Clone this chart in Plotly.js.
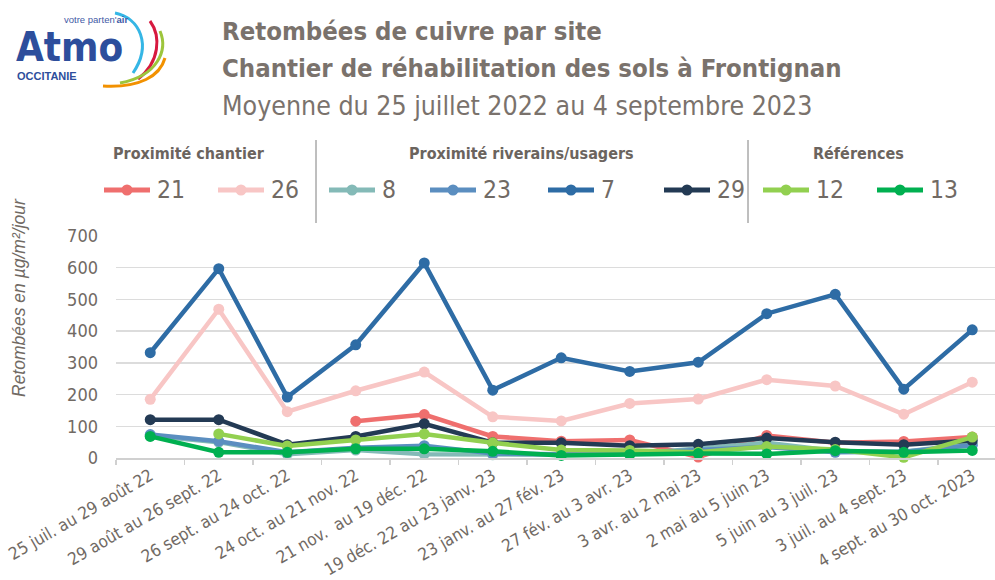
<!DOCTYPE html>
<html>
<head>
<meta charset="utf-8">
<script src="https://cdn.plot.ly/plotly-3.0.1.min.js"></script>
<style>html,body{margin:0;padding:0;overflow:hidden;background:#fff}#chart{width:995px;height:580px}</style>
</head>
<body>
<div id="chart"></div>
<script>
// ---- data ----
const categories = ["25 juil. au 29 août 22","29 août au 26 sept. 22","26 sept. au 24 oct. 22","24 oct. au 21 nov. 22","21 nov.\u00a0 au 19 déc. 22","19 déc. 22 au 23 janv. 23","23 janv. au 27 fév. 23","27 fév. au 3 avr. 23","3 avr. au 2 mai 23","2 mai au 5 juin 23","5 juin au 3 juil. 23","3 juil. au 4 sept. 23","4 sept. au 30 oct. 2023"];
const seriesNames = ["21","26","8","23","7","29","12","13"];
const s21 = [null,null,null,116,137,68,53,57,3,71,48,52,66];
const s26 = [185,469,146,212,271,130,117,172,186,247,227,138,239];
const s8  = [70,50,12,25,12,10,10,12,30,48,22,20,45];
const s23 = [74,53,18,32,39,14,12,15,25,35,18,20,40];
const s7  = [332,597,192,357,615,214,316,273,302,455,516,217,404];
const s29 = [121,121,42,68,108,48,48,39,43,63,50,42,55];
const s12 = [null,76,38,57,76,48,25,24,18,36,27,2,66];
const s13 = [68,18,18,29,29,21,8,11,14,13,23,18,24];
const groupTitles = ["Proximité chantier","Proximité riverains/usagers","Références"];
const yTitle = "Retombées en µg/m²/jour";
const titleLines = ["Retombées de cuivre par site","Chantier de réhabilitation des sols à Frontignan","Moyenne du 25 juillet 2022 au 4 septembre 2023"];

// ---- style ----
const values = [s21,s26,s8,s23,s7,s29,s12,s13];
const colors = ["#ef6f6e","#f8c6c5","#84bab7","#5b8ec0","#2e6ca5","#233a54","#92d050","#00b050"];
const NARROW = "'Liberation Sans Narrow','Arial Narrow','DejaVu Sans Condensed',sans-serif";
const SANS = "'Liberation Sans',Arial,sans-serif";
const TXT = "#716a64";
const ML=116, MT=236, W=995, H=580, MB=122, MR=0;
const PW=W-ML-MR, PH=H-MT-MB;
const X = px => (px-ML)/PW;
const Y = py => 1-(py-MT)/PH;

const traces = values.map((v,i)=>({
  type:'scatter', mode:'lines+markers', x:categories, y:v, name:seriesNames[i],
  line:{color:colors[i], width:4.5}, marker:{color:colors[i], size:11},
  connectgaps:false, cliponaxis:false, showlegend:false, hoverinfo:'skip'
}));

const annotations = [];
const shapes = [];
// titles
const tY=[31,68,105];
const tS=[25.5,25.5,26.5];
titleLines.forEach((t,i)=>annotations.push({xref:'paper',yref:'paper',x:X(220),y:Y(tY[i]),xanchor:'left',yanchor:'middle',showarrow:false,
  text: i<2?('<b>'+t+'</b>'):t, font:{family:NARROW,size:tS[i],color:'#7a726c'}}));
// y title
annotations.push({xref:'paper',yref:'paper',x:X(19),y:Y(298),xanchor:'center',yanchor:'middle',showarrow:false,textangle:-90,
  text:'<i>'+yTitle+'</i>',font:{family:SANS,size:17.5,color:TXT}});
// legend group titles
const gx=[189,521,858];
groupTitles.forEach((t,i)=>annotations.push({xref:'paper',yref:'paper',x:X(gx[i]),y:Y(153),xanchor:'center',yanchor:'middle',showarrow:false,
  text:'<b>'+t+'</b>',font:{family:NARROW,size:16,color:'#6b645e'}}));
// legend entries
const lx=[104,218,329,430,548,664,763,877];
seriesNames.forEach((n,i)=>{
  const xs=lx[i], ly=190;
  shapes.push({type:'line',xref:'paper',yref:'paper',x0:X(xs),x1:X(xs+46),y0:Y(ly),y1:Y(ly),line:{color:colors[i],width:5}});
  shapes.push({type:'circle',xref:'paper',yref:'paper',x0:X(xs+17.5),x1:X(xs+28.5),y0:Y(ly+5.5),y1:Y(ly-5.5),fillcolor:colors[i],line:{width:0}});
  annotations.push({xref:'paper',yref:'paper',x:X(xs+51),y:Y(ly),xanchor:'left',yanchor:'middle',showarrow:false,
    text:n,font:{family:NARROW,size:24.5,color:TXT}});
});
// separators
[316,748].forEach(sx=>shapes.push({type:'line',xref:'paper',yref:'paper',x0:X(sx),x1:X(sx),y0:Y(140),y1:Y(223),line:{color:'#7f7f7f',width:1}}));
// logo
annotations.push({xref:'paper',yref:'paper',x:X(15),y:Y(47),xanchor:'left',yanchor:'middle',showarrow:false,borderpad:0,
  text:'<b>Atmo</b>',font:{family:NARROW,size:40,color:'#2d4e9c'}});
annotations.push({xref:'paper',yref:'paper',x:X(63),y:Y(19),xanchor:'left',yanchor:'middle',showarrow:false,borderpad:0,
  text:"votre parten'<b>air</b>",font:{family:SANS,size:9.5,color:'#3f5aa6'}});
annotations.push({xref:'paper',yref:'paper',x:X(16),y:Y(76),xanchor:'left',yanchor:'middle',showarrow:false,borderpad:0,
  text:'<b>OCCITANIE</b>',font:{family:SANS,size:11,color:'#2d4e9c'}});
function cpath(a,b,c,d){return 'M '+X(a[0])+','+Y(a[1])+' C '+X(b[0])+','+Y(b[1])+' '+X(c[0])+','+Y(c[1])+' '+X(d[0])+','+Y(d[1]);}
shapes.push({type:'path',xref:'paper',yref:'paper',path:cpath([115,13],[140,18],[152,45],[133,73]),line:{color:'#35b6e5',width:3}});
shapes.push({type:'path',xref:'paper',yref:'paper',path:cpath([150,21],[161,36],[160,62],[138,79]),line:{color:'#d7193f',width:3}});
shapes.push({type:'path',xref:'paper',yref:'paper',path:cpath([160,31],[168,50],[158,76],[120,83]),line:{color:'#9dc53c',width:3}});
shapes.push({type:'path',xref:'paper',yref:'paper',path:cpath([165,58],[160,76],[140,88],[103,86]),line:{color:'#f29100',width:3}});

const layout = {
  width:W, height:H, margin:{l:ML,r:MR,t:MT,b:MB,pad:0},
  paper_bgcolor:'#fff', plot_bgcolor:'#fff', showlegend:false,
  font:{family:NARROW,color:TXT},
  xaxis:{type:'category', range:[-0.5, -0.5+PW/68.5], tickson:'boundaries', ticks:'outside', ticklen:5, tickcolor:'#d0d0d0', tickwidth:1.5,
    showline:true, linecolor:'#d0d0d0', linewidth:1.5, showgrid:false, zeroline:false, tickangle:-30,
    tickfont:{family:NARROW,size:17,color:TXT}, automargin:false, fixedrange:true},
  yaxis:{range:[0,700], dtick:100, tick0:0, showgrid:true, gridcolor:'#dcdcdc', gridwidth:1.5, zeroline:false, showline:false,
    ticks:'', ticklabelstandoff:17, tickfont:{family:NARROW,size:18,color:TXT}, automargin:false, fixedrange:true},
  annotations:annotations, shapes:shapes
};
Plotly.newPlot('chart', traces, layout, {staticPlot:true, displayModeBar:false});
</script>
</body>
</html>
